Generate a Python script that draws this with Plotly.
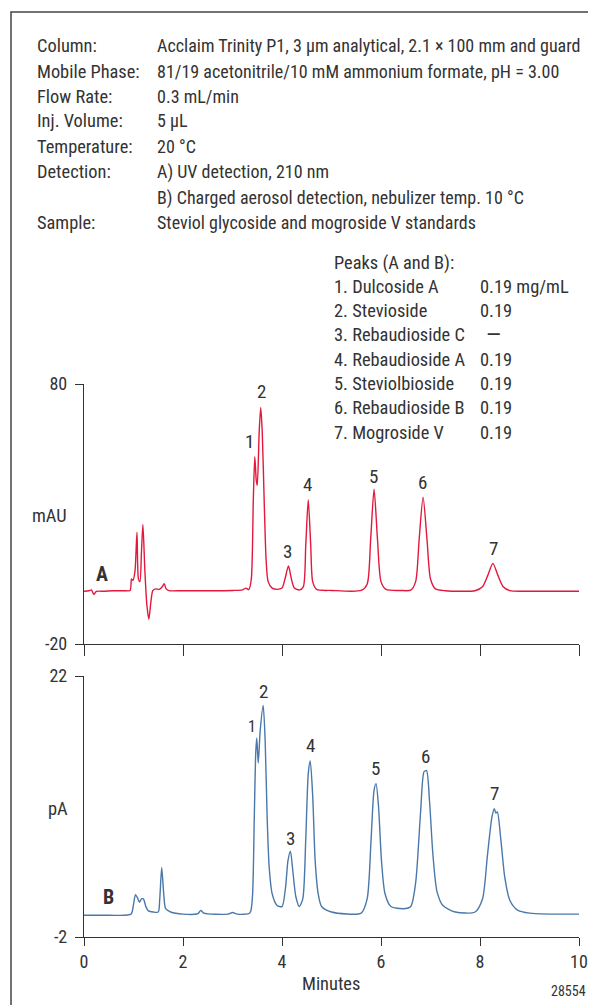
import plotly.graph_objects as go

# ---------------- data ----------------
# Chromatogram A: UV detection (mAU)
a_time = [0.0, 0.1, 0.15, 0.2, 0.25, 0.4, 0.6, 0.8, 0.93,
          0.96, 0.99, 1.03, 1.07, 1.10, 1.13, 1.16, 1.19, 1.23, 1.27, 1.31, 1.35, 1.39,
          1.45, 1.52, 1.58, 1.62, 1.66, 1.72, 2.0, 2.5, 3.0, 3.2, 3.27, 3.33,
          3.38, 3.42, 3.45, 3.48, 3.50, 3.54, 3.57, 3.60, 3.64, 3.68, 3.72, 3.8, 3.9,
          4.0, 4.06, 4.13, 4.19, 4.25, 4.35, 4.43, 4.48, 4.53, 4.58, 4.62, 4.7,
          5.0, 5.6, 5.72, 5.79, 5.86, 5.93, 6.0, 6.1, 6.4, 6.6, 6.7, 6.77, 6.85,
          6.93, 7.0, 7.1, 7.3, 7.9, 8.05, 8.16, 8.26, 8.36, 8.47, 8.6, 9.0, 10.0]
a_signal = [0.3, 0.5, 0.8, -0.9, 0.2, 0.3, 0.5, 0.5, 0.6,
            5.0, 4.5, 8.0, 23.0, 5.0, 4.0, 15.0, 26.0, 8.0, -5.0, -10.5, -4.0, 0.5,
            1.2, 1.0, 2.0, 3.2, 1.2, 0.5, 0.5, 0.5, 0.6, 0.8, 1.5, 0.9,
            5.0, 35.0, 52.0, 43.0, 41.0, 62.0, 71.0, 62.0, 35.0, 12.0, 4.0, 1.5, 1.0,
            1.5, 5.0, 10.0, 5.0, 1.5, 0.8, 2.0, 18.0, 35.5, 18.0, 4.0, 1.0,
            0.6, 0.6, 3.0, 20.0, 39.5, 20.0, 4.0, 1.0, 0.6, 0.7, 4.0, 20.0, 36.5,
            20.0, 5.0, 1.2, 0.5, 0.5, 2.0, 6.5, 11.0, 6.5, 2.0, 0.5, 0.3, 0.3]

# Chromatogram B: charged aerosol detection (pA)
b_time = [0.0, 0.5, 0.95, 1.0, 1.04, 1.08, 1.12, 1.16, 1.2, 1.25, 1.3, 1.4, 1.5,
          1.53, 1.57, 1.61, 1.65, 1.75, 2.0, 2.3, 2.36, 2.42, 2.9, 3.0, 3.1, 3.35,
          3.40, 3.44, 3.47, 3.49, 3.52, 3.56, 3.62, 3.66, 3.70, 3.74, 3.8, 3.9,
          4.0, 4.07, 4.12, 4.17, 4.22, 4.28, 4.35, 4.42, 4.48, 4.53, 4.57, 4.62,
          4.67, 4.73, 4.8, 5.0, 5.6, 5.72, 5.8, 5.86, 5.90, 5.95, 6.01, 6.08, 6.2,
          6.45, 6.6, 6.7, 6.8, 6.87, 6.92, 6.98, 7.05, 7.13, 7.25, 7.5, 7.9, 8.05,
          8.15, 8.24, 8.29, 8.32, 8.35, 8.42, 8.5, 8.6, 8.75, 9.0, 10.0]
b_signal = [0.0, 0.0, 0.1, 1.0, 1.9, 1.6, 1.2, 1.5, 1.5, 0.8, 0.4, 0.3, 0.3,
            1.5, 4.4, 2.0, 0.6, 0.3, 0.1, 0.15, 0.45, 0.2, 0.1, 0.25, 0.1, 0.2,
            1.5, 9.0, 15.0, 16.3, 14.0, 17.0, 19.3, 16.0, 9.0, 4.5, 2.0, 0.9,
            0.8, 2.5, 5.0, 5.9, 4.0, 1.7, 0.8, 1.5, 7.0, 13.0, 14.2, 11.0,
            5.0, 2.0, 0.8, 0.3, 0.2, 1.5, 7.0, 11.5, 12.1, 10.0, 5.0, 2.0, 0.8,
            0.6, 0.8, 3.0, 9.5, 13.2, 13.3, 10.5, 5.5, 2.2, 0.9, 0.3, 0.3, 1.5,
            5.5, 9.0, 9.8, 9.4, 9.5, 7.0, 3.5, 1.4, 0.5, 0.2, 0.1]

x_ticks = [0, 2, 4, 6, 8, 10]
x_tick_text = ["0", "2", "4", "6", "8", "10"]
a_yticks = [-20, 80]
a_ytick_text = ["-20", "80"]
b_yticks = [-2, 22]
b_ytick_text = ["-2", "22"]

peak_ids = ["1", "2", "3", "4", "5", "6", "7"]
peak_names = ["Dulcoside A", "Stevioside", "Rebaudioside C", "Rebaudioside A",
              "Steviolbioside", "Rebaudioside B", "Mogroside V"]
peak_conc = ["0.19 mg/mL", "0.19", "\u2014", "0.19", "0.19", "0.19", "0.19"]

# peak-number label anchors (time, signal)
a_label_t = [3.34, 3.59, 4.11, 4.51, 5.84, 6.84, 8.27]
a_label_v = [57.8, 77.0, 15.5, 41.2, 44.6, 42.0, 16.8]
b_label_t = [3.40, 3.62, 4.18, 4.57, 5.88, 6.90, 8.30]
b_label_v = [17.4, 20.6, 7.1, 15.6, 13.5, 14.6, 11.2]

cond_labels = ["Column:", "Mobile Phase:", "Flow Rate:", "Inj. Volume:",
               "Temperature:", "Detection:", "", "Sample:"]
cond_values = ["Acclaim Trinity P1, 3 \u00b5m analytical, 2.1 \u00d7 100 mm and guard",
               "81/19 acetonitrile/10 mM ammonium formate, pH = 3.00",
               "0.3 mL/min",
               "5 \u00b5L",
               "20 \u00b0C",
               "A) UV detection, 210 nm",
               "B) Charged aerosol detection, nebulizer temp. 10 \u00b0C",
               "Steviol glycoside and mogroside V standards"]

# ---------------- layout helpers ----------------
# the page body adds an 8 px margin; the figure is offset by it
OFF = 8
W, H = 596 - OFF, 1005 - OFF
FONT = "Roboto Condensed, Roboto, sans-serif"
TXT = "#333333"
RED = "#e2183d"
BLUE = "#4a78aa"


def px(x):
    return (x - OFF) / W


def py(y):
    return 1 - (y - OFF) / H


fig = go.Figure()
fig.add_trace(go.Scatter(x=a_time, y=a_signal, mode="lines", xaxis="x", yaxis="y",
                         line=dict(color=RED, width=1.4, shape="spline", smoothing=0.7),
                         showlegend=False, hoverinfo="skip"))
fig.add_trace(go.Scatter(x=b_time, y=b_signal, mode="lines", xaxis="x2", yaxis="y2",
                         line=dict(color=BLUE, width=1.4, shape="spline", smoothing=0.7),
                         showlegend=False, hoverinfo="skip"))

x_dom = [px(84), px(579)]
axis_common = dict(showgrid=False, zeroline=False, showline=True, linecolor=TXT,
                   linewidth=1.3, ticks="outside", tickcolor=TXT, tickwidth=1.3,
                   automargin=False,
                   tickfont=dict(family=FONT, size=18, color=TXT))

fig.update_layout(
    width=W, height=H,
    margin=dict(l=0, r=0, t=0, b=0),
    paper_bgcolor="white", plot_bgcolor="white",
    font=dict(family=FONT, color=TXT),
    xaxis=dict(domain=x_dom, range=[0, 10], tickvals=x_ticks, showticklabels=False,
               ticklen=11, anchor="y", **axis_common),
    yaxis=dict(domain=[py(644), py(384)], range=[-20, 80], tickvals=a_yticks,
               ticktext=a_ytick_text, ticklen=8, anchor="x", ticklabelstandoff=4,
               **axis_common),
    xaxis2=dict(domain=x_dom, range=[0, 10], tickvals=x_ticks, ticktext=x_tick_text,
                ticklen=8, anchor="y2", **axis_common),
    yaxis2=dict(domain=[py(937), py(676)], range=[-2, 22], tickvals=b_yticks,
                ticktext=b_ytick_text, ticklen=8, anchor="x2", ticklabelstandoff=4,
                **axis_common),
)

# frame
fig.add_shape(type="rect", xref="paper", yref="paper",
              x0=px(11), x1=1.05, y0=-0.05, y1=py(12),
              line=dict(color="#444444", width=1.5))

ann = []


def text(x, y, s, size=18.4, xanchor="left", bold=False, xref="paper", yref="paper"):
    ann.append(dict(x=x, y=y, xref=xref, yref=yref, text=("<b>%s</b>" % s) if bold else s,
                    showarrow=False, xanchor=xanchor, yanchor="middle",
                    font=dict(family=FONT, size=size, color=TXT)))


# conditions block
row_y = [45, 71, 96, 121, 146, 172, 198, 223]
for lab, val, yy in zip(cond_labels, cond_values, row_y):
    if lab:
        text(px(35), py(yy), lab)
    text(px(155), py(yy), val, size=18.0)

# peaks list
text(px(332), py(263), "Peaks (A and B):")
for i, (pid, name, conc) in enumerate(zip(peak_ids, peak_names, peak_conc)):
    yy = 286 + i * 24.4
    text(px(332), py(yy), "%s. %s" % (pid, name))
    if conc == "\u2014":
        text(px(484), py(yy), conc, size=22)
    else:
        text(px(478), py(yy), conc)

# peak numbers
for pid, t, v in zip(peak_ids, a_label_t, a_label_v):
    text(t, v, pid, size=19, xanchor="center", xref="x", yref="y")
for pid, t, v in zip(peak_ids, b_label_t, b_label_v):
    text(t, v, pid, size=16 if pid == "1" else 19, xanchor="center", xref="x2", yref="y2")

# trace letters and units
text(px(102), py(574), "A", size=20, xanchor="center", bold=True)
text(px(108), py(897), "B", size=20, xanchor="center", bold=True)
text(px(49), py(515), "mAU", size=18.4, xanchor="center")
text(px(58), py(808), "pA", size=18.4, xanchor="center")
text(px(331), py(983), "Minutes", size=18.4, xanchor="center")
text(px(588), py(991), "28554", size=14, xanchor="right")

fig.update_layout(annotations=ann)
fig.write_html("out.html")
